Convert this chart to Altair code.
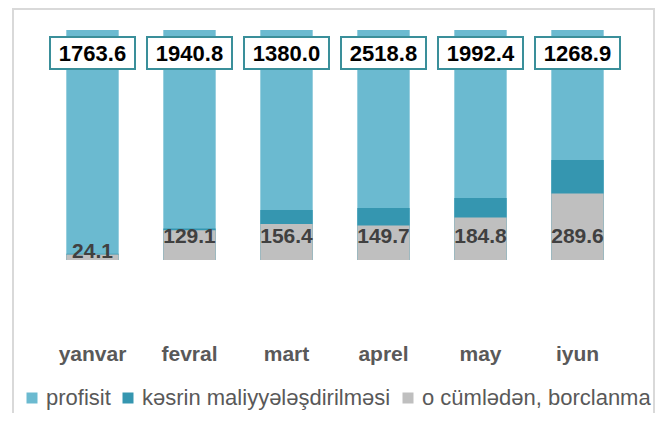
import altair as alt
import pandas as pd

FONT = "Liberation Sans"

months = ["yanvar", "fevral", "mart", "aprel", "may", "iyun"]
profisit = [1763.6, 1940.8, 1380.0, 2518.8, 1992.4, 1268.9]
financing = [27.0, 137.0, 217.0, 226.0, 270.0, 435.0]
borrowing = [24.1, 129.1, 156.4, 149.7, 184.8, 289.6]

series_names = ["profisit", "kəsrin maliyyələşdirilməsi", "o cümlədən, borclanma"]
colors = ["#6bbad0", "#3596b0", "#bfbfbf"]

rows = []
for name, vals in zip(series_names, [profisit, financing, borrowing]):
    for m, v in zip(months, vals):
        rows.append({"month": m, "series": name, "value": v})
df = pd.DataFrame(rows)

lab = pd.DataFrame({"month": months, "profisit": profisit, "borrowing": borrowing})
frame = pd.DataFrame({"a": [0]})

yscale = alt.Scale(domain=[0, 1000], nice=False, zero=True)
xenc = alt.X(
    "month:N",
    sort=months,
    scale=alt.Scale(paddingInner=0.46, paddingOuter=0.23),
    axis=alt.Axis(
        title=None, labelFontSize=21, labelFontWeight="bold", labelColor="#595959",
        labelPadding=83, ticks=False, domain=False, labelAngle=0, labelFont=FONT,
    ),
)

bars = alt.Chart(df).mark_bar(clip=True).encode(
    x=xenc,
    y=alt.Y("value:Q", stack=None, scale=yscale, axis=None),
    color=alt.Color(
        "series:N",
        sort=series_names,
        scale=alt.Scale(domain=series_names, range=colors),
        legend=alt.Legend(
            title=None, orient="none", legendX=-23, legendY=357, direction="horizontal",
            symbolType="square", symbolSize=121, symbolStrokeWidth=0, symbolOpacity=1,
            labelFontSize=22, labelColor="#595959", labelFont=FONT,
            columnPadding=6, labelOffset=3, labelLimit=0,
        ),
    ),
)

gray_labels = alt.Chart(lab).transform_calculate(
    pos="min(datum.borrowing, 93)"
).mark_text(
    fontSize=21, fontWeight="bold", color="#404040", baseline="middle", dy=-2, font=FONT
).encode(
    x=alt.X("month:N", sort=months),
    y=alt.Y("pos:Q", scale=yscale, axis=None),
    text=alt.Text("borrowing:Q", format=".1f"),
)

boxes = alt.Chart(lab).mark_bar(
    size=85, fill="white", stroke="#3a8f9a", strokeWidth=2
).encode(
    x=alt.X("month:N", sort=months),
    y=alt.value(7),
    y2=alt.value(39),
)

box_text = alt.Chart(lab).mark_text(
    fontSize=22, fontWeight="bold", color="black", baseline="middle", dy=1, font=FONT
).encode(
    x=alt.X("month:N", sort=months),
    y=alt.value(23),
    text=alt.Text("profisit:Q", format=".1f"),
)

border = alt.Chart(frame).mark_rect(
    fill="white", fillOpacity=0, stroke="#d9d9d9", strokeWidth=2
).encode(
    x=alt.value(-31), x2=alt.value(610), y=alt.value(-21), y2=alt.value(400)
)

chart = alt.layer(border, bars, gray_labels, boxes, box_text).properties(
    width=582,
    height=230,
    autosize=alt.AutoSizeParams(type="none"),
    padding={"left": 36, "top": 22, "right": 31, "bottom": 153},
).configure_view(stroke=None)

chart.save("out.html", embed_options={"renderer": "svg", "actions": False})
